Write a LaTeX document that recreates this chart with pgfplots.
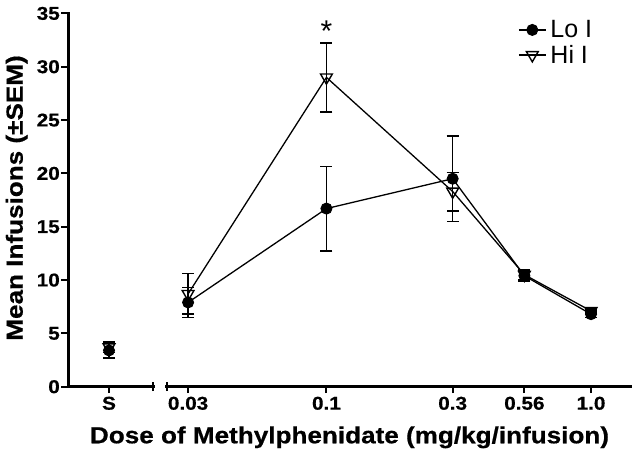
\documentclass[border=0pt]{standalone}
\usepackage{fontspec}
\setmainfont{Liberation Sans}
\newfontfamily\wide[FakeStretch=1.12, BoldFeatures={FakeStretch=1.12, FakeBold=0.6}]{Liberation Sans}
\usepackage{pgfplots}
\pgfplotsset{compat=1.18}
\pgfplotsset{
 common/.style={
  scale only axis, height=373.3pt, ymin=0, ymax=35, clip=false,
  anchor=south west,
  axis x line*=bottom,
  axis line style={line width=3pt,-, line cap=rect},
  tick style={line width=2pt, black},
  major tick length=6.5pt, tick align=outside,
  ticklabel style={font=\wide\bfseries\fontsize{18.5}{18.5}\selectfont},
  /pgf/number format/assume math mode=true,
 },
 hiI/.style={black, line width=1.3pt, mark=triangle, mark size=6.8pt,
  mark options={rotate=180, fill=white, line width=1.4pt, solid},
  error bars/.cd, y dir=both, y explicit,
  error bar style={line width=1.6pt},
  error mark options={rotate=90, mark size=6pt, line width=1.6pt}},
 loI/.style={black, line width=1.3pt, mark=*, mark size=5.5pt,
  mark options={fill=black, line width=1pt, solid},
  error bars/.cd, y dir=both, y explicit,
  error bar style={line width=1.6pt},
  error mark options={rotate=90, mark size=6pt, line width=1.6pt}},
}
\begin{document}
\begin{tikzpicture}
\path (0pt,0pt) rectangle (636pt,460pt);
% saline segment
\begin{axis}[common, at={(68pt,73.3pt)}, width=85pt, xmin=-41, xmax=44,
  axis y line*=left, xtick={0}, xticklabels={S}, ytick={0,5,...,35},
  yticklabel style={inner xsep=1.5pt}]
\addplot[hiI] coordinates {(0,3.7) +- (0,0.5)};
\addplot[loI] coordinates {(0,3.4) +- (0,0.7)};
\end{axis}
% dose segment
\begin{axis}[common, at={(167pt,73.3pt)}, width=463pt, xmode=log,
  xmin=0.02497, xmax=1.404, axis y line=none, ytick=\empty,
  xtick={0.03,0.1,0.3,0.56,1}, xticklabels={0.03,0.1,0.3,0.56,1.0},
  reverse legend, legend cell align=left,
  legend style={at={(0.758,0.984)}, anchor=north west, draw=none, fill=none,
    inner sep=0pt, row sep=4pt, font=\fontsize{25}{25}\selectfont,
    nodes={inner xsep=4pt, inner ysep=1pt}},
  legend image code/.code={\draw[mark repeat=2,mark phase=2] plot coordinates {(0pt,0pt) (13.5pt,0pt) (27pt,0pt)};}]
\addplot[hiI] coordinates {
 (0.03,8.7) +- (0,1.9)
 (0.1,29.0) +- (0,3.25)
 (0.3,18.3) +- (0,1.8)
 (0.56,10.5) +- (0,0.5)
 (1.0,7.1) +- (0,0.2)};
\addlegendentry{Hi I}
\addplot[loI] coordinates {
 (0.03,7.9) +- (0,1.4)
 (0.1,16.7) +- (0,3.95)
 (0.3,19.5) +- (0,4.0)
 (0.56,10.4) +- (0,0.5)
 (1.0,6.8) +- (0,0.3)};
\addlegendentry{Lo I}
\node[font=\fontsize{30}{30}\selectfont] at (axis cs:0.1,33.3) {*};
\end{axis}
% axis break marks
\draw[line width=2pt] (153pt,69pt) -- (153pt,77.6pt);
\draw[line width=2pt] (167pt,69pt) -- (167pt,77.6pt);
% axis labels
\node[font=\wide\bfseries\fontsize{23.3}{23.3}\selectfont, anchor=base] at (349.5pt,16.7pt) {Dose of Methylphenidate (mg/kg/infusion)};
\node[font=\wide\bfseries\fontsize{23.3}{23.3}\selectfont, anchor=base, rotate=90] at (22.7pt,262pt) {Mean Infusions (±SEM)};
\end{tikzpicture}
\end{document}
